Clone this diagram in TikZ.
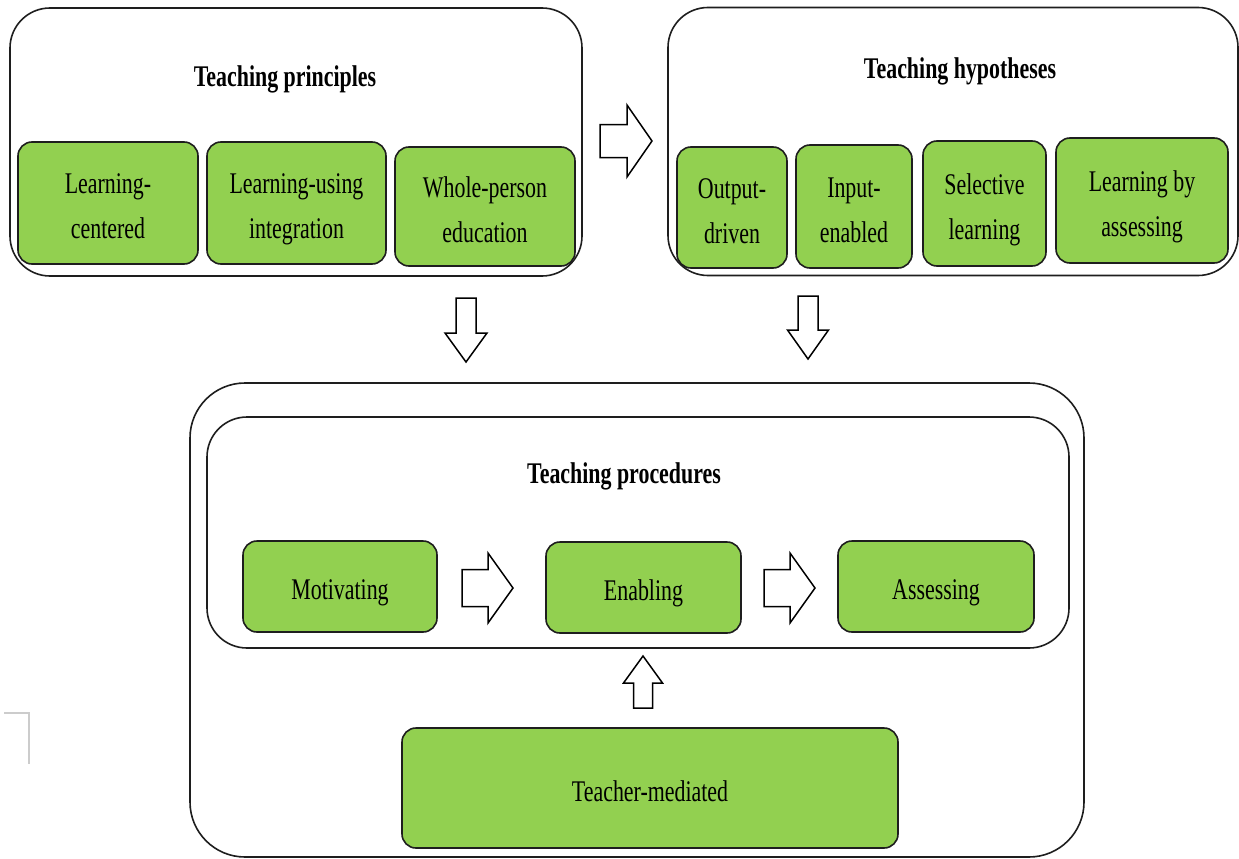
\documentclass[tikz,border=0pt]{standalone}
\usepackage{fontspec}
\setmainfont{Liberation Serif}[FakeStretch=0.73]
\definecolor{boxgreen}{RGB}{146,208,80}
\definecolor{edge}{RGB}{30,30,30}
\newcommand{\blockarrow}[6]{%
  % #1 tail, #2 angle, #3 length, #4 shaft width, #5 head width, #6 head length
  \begin{scope}[shift={#1},rotate=#2]
    \draw[arrowline] (0,-#4/2) -- ({#3-#6},-#4/2) -- ({#3-#6},-#5/2) -- (#3,0)
      -- ({#3-#6},#5/2) -- ({#3-#6},#4/2) -- (0,#4/2) -- cycle;
  \end{scope}}
\newcommand{\btext}[1]{\raisebox{-4pt}[\height][\depth]{\begin{tabular}{@{}c@{}}#1\end{tabular}}}
\begin{document}
\begin{tikzpicture}[x=1pt,y=-1pt,
  container/.style={draw=edge,line width=1.6pt,rounded corners=40pt,fill=white},
  gbox/.style={draw=edge,line width=1.6pt,fill=boxgreen,rounded corners=14pt,
    align=center,inner sep=0pt,font=\fontsize{30}{45}\selectfont},
  title/.style={font=\fontsize{30}{36}\selectfont\bfseries},
  arrowline/.style={draw=black,line width=1.5pt,fill=white,line join=miter}]
\useasboundingbox (0,0) rectangle (1239,859);

% top-left container
\node[container,minimum width=572pt,minimum height=268pt] (tp) at (296,142) {};
\node[title] (tpt) at (285,79) {Teaching principles};
\node[gbox,minimum width=180pt,minimum height=122pt] (p1) at (108,203) {\btext{Learning-\\centered}};
\node[gbox,minimum width=179pt,minimum height=122pt] (p2) at (296.5,203) {\btext{Learning-using\\integration}};
\node[gbox,minimum width=180pt,minimum height=119pt] (p3) at (485,206.5) {\btext{Whole-person\\education}};

% top-right container
\node[container,minimum width=570pt,minimum height=268pt] (th) at (953,141.5) {};
\node[title] (tht) at (960,71) {Teaching hypotheses};
\node[gbox,minimum width=110pt,minimum height=121pt] (h1) at (732,207.5) {\btext{Output-\\driven}};
\node[gbox,minimum width=116pt,minimum height=123pt] (h2) at (854,206.5) {\btext{Input-\\enabled}};
\node[gbox,minimum width=123pt,minimum height=125pt] (h3) at (984.5,203.5) {\btext{Selective\\learning}};
\node[gbox,minimum width=172pt,minimum height=125pt] (h4) at (1142,200.5) {\btext{Learning by\\assessing}};

% bottom containers
\node[container,rounded corners=55pt,minimum width=894pt,minimum height=474pt] (outer) at (637,620) {};
\node[container,minimum width=862pt,minimum height=231pt] (inner) at (638,532.5) {};
\node[title] (tpr) at (624,476) {Teaching procedures};
\node[gbox,minimum width=194pt,minimum height=91pt] (mot) at (340,586.5) {\btext{Motivating}};
\node[gbox,minimum width=195pt,minimum height=91pt] (ena) at (643.5,587.5) {\btext{Enabling}};
\node[gbox,minimum width=196pt,minimum height=91pt] (ass) at (936,586.5) {\btext{Assessing}};
\node[gbox,minimum width=496pt,minimum height=120pt] (tm) at (650,788) {\btext{Teacher-mediated}};

% block arrows
\blockarrow{(600,141)}{0}{52}{33}{72}{25}
\blockarrow{(466,298)}{-90}{64}{20}{42}{29}
\blockarrow{(808,296)}{-90}{63}{20}{41}{29}
\blockarrow{(462,588)}{0}{51}{37}{70}{25}
\blockarrow{(764,588)}{0}{51}{37}{70}{25}
\blockarrow{(643,708)}{90}{52}{19}{39}{27}

% faint corner mark at left
\draw[black!20,line width=1.5pt] (4,713) -- (29,713) -- (29,764);
\end{tikzpicture}
\end{document}
